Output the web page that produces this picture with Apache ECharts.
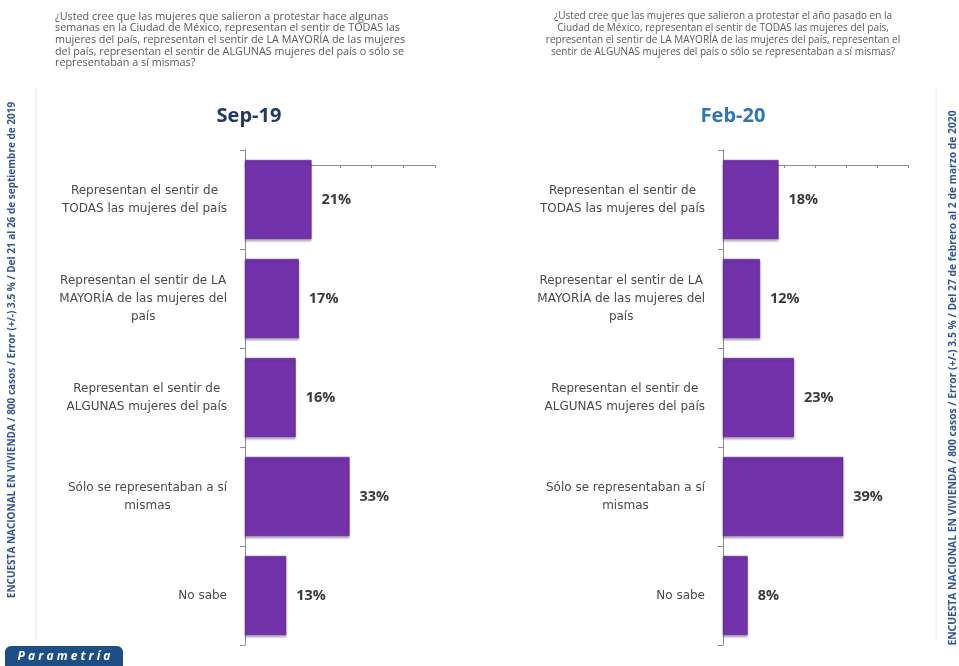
<!DOCTYPE html>
<html>
<head>
<meta charset="utf-8">
<script src="https://cdn.jsdelivr.net/npm/echarts@6/dist/echarts.min.js"></script>
<style>
  html, body { margin: 0; padding: 0; background: #fff; }
  #main { width: 959px; height: 666px; }
</style>
</head>
<body>
<div id="main"></div>
<script>
// categorias (tal como aparecen en cada panel)
var catsSep = [
  "Representan el sentir de\nTODAS las mujeres del país",
  "Representan el sentir de LA\nMAYORÍA de las mujeres del\npaís",
  "Representan el sentir de\nALGUNAS mujeres del país",
  "Sólo se representaban a sí\nmismas",
  "No sabe"
];
var catsFeb = [
  "Representan el sentir de\nTODAS las mujeres del país",
  "Representar el sentir de LA\nMAYORÍA de las mujeres del\npaís",
  "Representan el sentir de\nALGUNAS mujeres del país",
  "Sólo se representaban a sí\nmismas",
  "No sabe"
];
var valSep = [21, 17, 16, 33, 13];
var valFeb = [18, 12, 23, 39, 8];

var questionSep = "¿Usted cree que las mujeres que salieron a protestar hace algunas\nsemanas en la Ciudad de México, representan el sentir de TODAS las\nmujeres del país, representan el sentir de LA MAYORÍA de las mujeres\ndel país, representan el sentir de ALGUNAS mujeres del país o sólo se\nrepresentaban a sí mismas?";
var questionFeb = "¿Usted cree que las mujeres que salieron a protestar el año pasado en la\nCiudad de México, representan el sentir de TODAS las mujeres del país,\nrepresentan el sentir de LA MAYORÍA de las mujeres del país, representan el\nsentir de ALGUNAS mujeres del país o sólo se representaban a sí mismas?";
var noteSep = "ENCUESTA NACIONAL EN VIVIENDA / 800 casos / Error (+/-) 3.5 % / Del 21 al 26 de septiembre de 2019";
var noteFeb = "ENCUESTA NACIONAL EN VIVIENDA / 800 casos / Error (+/-) 3.5 % / Del 27 de febrero al 2 de marzo de 2020";

var barColor = "#7232aa";
var font = "Open Sans";

// cada linea centrada dentro del bloque alineado a la derecha
function catLabel(v) {
  return v.split("\n").map(function (l) { return "{c|" + l + "}"; }).join("\n");
}

function xAx(idx) {
  return {
    gridIndex: idx, type: "value", min: 0, max: 60, interval: 10,
    position: "top", offset: -15,
    axisLine: { show: true, lineStyle: { color: "#8c8c8c", width: 1 } },
    axisTick: { show: true, inside: true, length: 3, lineStyle: { color: "#8c8c8c" } },
    axisLabel: { show: false },
    splitLine: { show: false }
  };
}
function yAx(idx, cats) {
  return {
    gridIndex: idx, type: "category", data: cats, inverse: true,
    axisLine: { show: true, lineStyle: { color: "#8c8c8c", width: 1 } },
    axisTick: { show: true, length: 5, lineStyle: { color: "#8c8c8c" } },
    axisLabel: {
      margin: 18, formatter: catLabel,
      rich: { c: { align: "center", fontFamily: "DejaVu Sans", fontSize: 12, color: "#4a4a4a", lineHeight: 18 } }
    }
  };
}
function barSeries(idx, data) {
  return {
    type: "bar", xAxisIndex: idx, yAxisIndex: idx, data: data,
    barCategoryGap: "20%",
    itemStyle: { color: barColor, borderColor: "#5a2388", borderWidth: 0.6,
      shadowColor: "rgba(60,20,90,0.35)", shadowOffsetY: 2, shadowBlur: 2 },
    label: {
      show: true, position: "right", distance: 10, formatter: "{c}%",
      fontFamily: font, fontWeight: "bold", fontSize: 14.5, color: "#3a3a3a"
    }
  };
}

var myChart = echarts.init(document.getElementById("main"));
var option = {
  backgroundColor: "#ffffff",
  animation: false,
  title: [
    { text: "Sep-19", left: 244, top: 101, textAlign: "center",
      textStyle: { fontFamily: font, fontSize: 20, fontWeight: "bold", color: "#1f3864" } },
    { text: "Feb-20", left: 728, top: 101, textAlign: "center",
      textStyle: { fontFamily: font, fontSize: 20, fontWeight: "bold", color: "#2e75b6" } }
  ],
  grid: [
    { left: 245, top: 150, width: 190, height: 495 },
    { left: 723, top: 150, width: 185, height: 495 }
  ],
  xAxis: [xAx(0), xAx(1)],
  yAxis: [yAx(0, catsSep), yAx(1, catsFeb)],
  series: [barSeries(0, valSep), barSeries(1, valFeb)],
  graphic: [
    { type: "line", shape: { x1: 36, y1: 88, x2: 36, y2: 640 },
      style: { stroke: "#e6e6e6", lineWidth: 1 }, silent: true },
    { type: "line", shape: { x1: 936, y1: 88, x2: 936, y2: 640 },
      style: { stroke: "#ececec", lineWidth: 1 }, silent: true },
    { type: "text", left: 55, top: 11,
      style: { text: questionSep, fontFamily: font, fontSize: 10.8, lineHeight: 11.6, fill: "#595959" } },
    { type: "text", x: 723, y: 10,
      style: { text: questionFeb, fontFamily: font, fontSize: 10, lineHeight: 12, fill: "#595959", align: "center" } },
    { type: "text", x: 12, y: 350, rotation: Math.PI / 2,
      style: { text: noteSep, fontFamily: font, fontSize: 10, fontWeight: "bold", fill: "#2f5597",
        align: "center", verticalAlign: "middle" } },
    { type: "text", x: 953, y: 378, rotation: Math.PI / 2,
      style: { text: noteFeb, fontFamily: font, fontSize: 10.3, fontWeight: "bold", fill: "#2f5597",
        align: "center", verticalAlign: "middle" } },
    { type: "rect", shape: { x: 5, y: 646, width: 118, height: 26, r: 6 },
      style: { fill: "#1d4f86" } },
    { type: "text", x: 64, y: 657,
      style: { text: "P a r a m e t r í a", fontFamily: font, fontSize: 12, fontWeight: "bold",
        fontStyle: "italic", fill: "#ffffff", align: "center", verticalAlign: "middle" } }
  ]
};
myChart.setOption(option);
</script>
</body>
</html>
